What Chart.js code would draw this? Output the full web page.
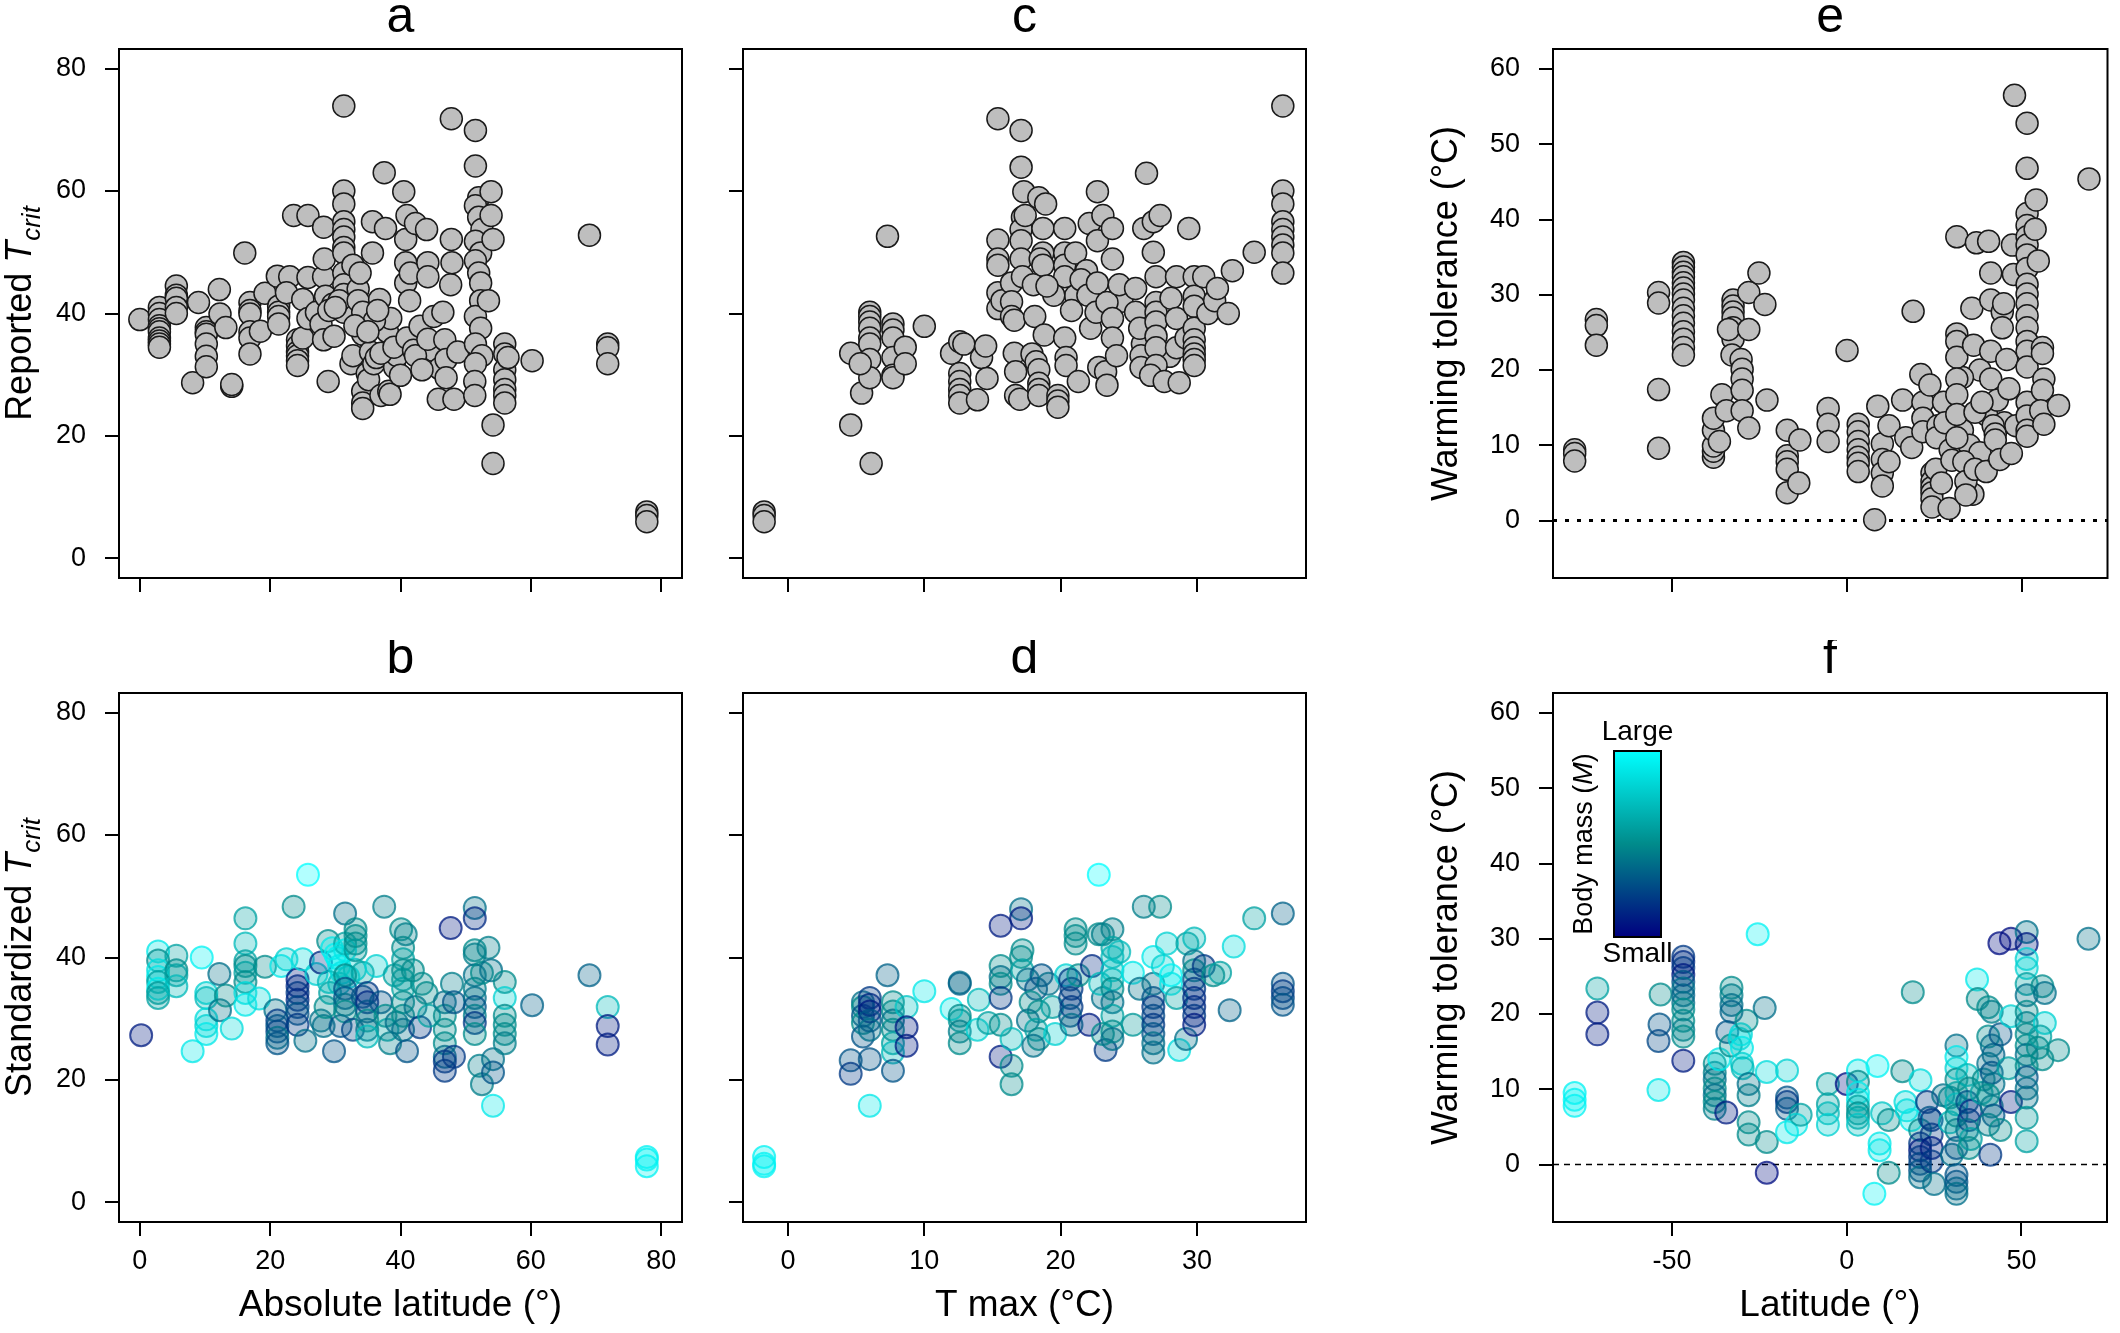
<!DOCTYPE html>
<html>
<head>
<meta charset="utf-8">
<script src="https://cdn.jsdelivr.net/npm/chart.js@4.4.0/dist/chart.umd.min.js"></script>
<style>
  body { margin: 0; background: #fff; width: 2120px; height: 1333px; position: relative; overflow: hidden; }
  canvas { position: absolute; }
</style>
</head>
<body>
<canvas id="pa" width="700" height="640" style="left:0;top:0"></canvas>
<canvas id="pc" width="630" height="640" style="left:700px;top:0"></canvas>
<canvas id="pe" width="790" height="640" style="left:1330px;top:0"></canvas>
<canvas id="pb" width="700" height="693" style="left:0;top:640px"></canvas>
<canvas id="pd" width="630" height="693" style="left:700px;top:640px"></canvas>
<canvas id="pf" width="790" height="693" style="left:1330px;top:640px"></canvas>
<script>
// tick values
var latTicks = [0, 20, 40, 60, 80];
var tmaxTicks = [0, 10, 20, 30];
var latSignedTicks = [-50, 0, 50];
var tcritTicks = [0, 20, 40, 60, 80];
var wtTicks = [0, 10, 20, 30, 40, 50, 60];

// a: reported Tcrit vs absolute latitude  [lat, Tcrit]
var aPts = [
  [0,39],
  [3,41],[3,40],[3,39],[3,38],[3,37.5],[3,37],[3,36],[3,35.5],[3,35],[3,34.5],
  [5.6,44.5],[5.6,43],[5.6,42.5],[5.6,41],[5.6,40],
  [8.1,28.7],[9,41.8],
  [10.2,37.7],[10.2,37],[10.2,36.6],[10.2,35],[10.2,33],[10.2,31.3],
  [12.2,43.9],[12.3,39.9],[13.2,37.7],[14.1,28.1],[14.1,28.4],
  [16.1,49.9],
  [16.9,41.8],[16.9,40.5],[16.9,39.9],[16.9,37],[16.9,36],[16.9,33.4],
  [18.5,37.1],[19.2,43.3],[21.1,46.1],
  [21.3,41.2],[21.3,40.2],[21.3,39.5],[21.3,38.3],
  [23,46],[23.6,56],[22.5,43.4],
  [24.2,35.7],[24.2,34.7],[24.2,33.7],[24.2,33.1],[24.2,32.3],[24.2,31.5],
  [25,42.3],[25,36],[25.8,56],[25.8,45.9],[25.8,39.2],[27.1,40.2],
  [28.2,54.1],[28.2,46],[28.3,48.9],[27.8,38.3],[28.2,35.7],[28.9,28.9],[28.5,42.8],[29.8,36.3],[29.6,41.5],
  [31.3,73.9],[31.3,60],[31.3,57.9],[31.3,55],[31.3,53.7],[31.3,52.5],[31.3,50.8],[31.3,49.9],[31.3,46.6],[31.3,44.7],[31.3,43.1],[31.3,41.2],[31.3,40.2],
  [30.6,42.1],[32.7,47.9],[32.4,31.8],[32.7,33.1],[33.5,44],[33.8,46.6],[33.5,42.1],[34.2,40.2],[34.2,36.6],[34.2,27.3],[34.2,25.4],[34.2,24.5],
  [34.9,30.2],[35.1,29.2],[35.4,33.7],[35.7,55],[35.7,49.9],[35.9,31.8],[36.3,32.8],[36.8,42.3],[37,26.6],[37.5,63],[37.7,53.9],[38,37],[38.2,27.3],[38.4,26.8],[38.5,39.2],[39.1,31.2],[39.5,33.1],[40,29.9],
  [36,38.8],[36.5,40.5],[29,40.5],[30,41],[33,38],[35,37],[37,33.5],[39,34.5],[41,36],[42,34],[45,34],[46,31],
  [40.5,59.9],[40.8,52.1],[40.8,48.3],[40.8,45],[41,56],[41.4,42.1],[41.5,46.6],[42.3,54.7],[42.3,33.1],[43,37.9],[43.3,30.8],[44,53.7],[44.2,48.3],[44.2,46],[44.2,35.8],[45.1,39.5],[45.8,26],
  [46.5,40.2],[46.8,35.7],[47,32.5],[47,29.5],[47.7,44.7],[47.8,52.1],[47.8,71.8],[47.9,48.3],[48.2,26],[48.8,33.7],
  [51.5,69.9],[51.5,64.1],[52,58.9],[51.5,57.6],[52,55.7],[52.5,53.7],[51.5,51.8],[52.3,49.9],[51.5,48.6],[52,46.6],[52.3,45],[52.3,42.1],[51.5,39.5],[52.3,37.6],[51.5,35],[52.5,33.1],[51.5,31.8],[51.4,28.9],[51.4,26.6],
  [53.9,59.9],[53.9,56],[54.2,52.1],[54.2,21.8],[54.2,15.5],[53.5,42.1],
  [56,35],[56,33.4],[56,30.8],[56,29.2],[56,27.6],[56,26.6],[56,25.4],[56.5,32.8],
  [60.2,32.3],[69,52.8],[71.8,35],[71.8,34.4],[71.8,31.8],[77.8,7.6],[77.8,7],[77.8,6]
];

// c: reported Tcrit vs Tmax  [Tmax, Tcrit]
var cPts = [
  [-1.75,7.6],[-1.75,7],[-1.75,6],
  [4.6,33.5],[4.6,21.8],[5.4,27],[6.1,15.5],
  [6,40.2],[6,39.5],[6,38.6],[6,37.6],[6,36],[6,35],[6,32.5],[6,29.5],[5.3,31.8],
  [7.3,52.6],
  [7.7,38.3],[7.7,37.3],[7.7,36],[7.7,32.8],[7.7,29.9],[7.7,29.5],
  [8.6,34.5],[8.6,31.8],[10,37.9],[12,33.5],
  [12.6,35.4],[12.6,30.2],[12.6,28.9],[12.6,27.6],[12.6,26.6],[12.6,25.4],[12.9,35],
  [13.9,25.9],[14.2,32.8],[14.5,34.7],[14.6,29.4],
  [15.4,71.8],[15.4,52],[15.4,48.9],[15.4,47.9],[15.4,43.4],[15.4,40.8],[15.7,42.1],
  [16.4,45],[16.4,41.9],[16.4,39.5],[16.6,38.9],[16.6,33.5],[16.7,30.5],[16.7,26.6],[17,26],
  [17.1,69.9],[17.1,63.9],[17.3,59.9],[17.2,55.7],[17.1,53.7],[17.1,51.9],[17.1,48.9],[17.2,46],[17.4,56],
  [18,44.7],[18.1,39.5],[18.4,58.9],[18.9,57.9],[18.7,53.9],[18.7,49.9],[18.5,48.9],[18.7,47.9],
  [17.9,33.4],[18.2,32.1],[18.4,30.8],[18.4,28.6],[18.4,27.6],[18.4,26.6],[18.8,36.5],
  [19.8,26.6],[19.8,25.7],[19.8,24.7],
  [20.3,53.9],[20.3,49.9],[20.3,47.9],[20.3,46],[20.3,36],[20.4,32.8],[20.4,31.5],
  [21.1,49.9],[21.1,42.9],[21.3,28.9],[21.9,47],[22.1,54.7],[22.2,37.6],
  [19.5,43],[21.5,45.5],[24.5,42],[26,35],[28,33],[20.8,40.5],[19,44.5],[22,43],
  [22.7,59.9],[22.7,51.9],[22.7,45],[22.6,40.2],[22.8,31.2],[23.1,56],[23.3,30.5],[23.4,28.3],[23.4,41.8],
  [23.8,53.9],[23.8,48.9],[23.8,39.2],[23.8,36],[24.1,33.1],[24.3,44.7],
  [25.5,44.1],[25.5,40.2],[25.8,37.6],[25.9,33.1],[25.9,31.2],[26.3,62.9],[26.1,53.9],[26.8,55],[27.3,56],[26.8,50],
  [27,46],[27,41.8],[27,40.2],[27,38.6],[27,36.3],[27,34.4],[27,31.5],[26.6,29.9],[27.6,28.9],
  [28.1,42.5],[28.5,46],[28.5,39.2],[28.5,34.4],[28.7,28.7],[29.2,36],[29.4,53.9],
  [29.8,46],[29.8,42.8],[29.8,41.2],[29.8,37.6],[29.8,35.7],[29.8,34.4],[29.8,33.4],[29.8,32.5],[29.8,31.5],
  [30.5,46],[30.8,40],[31.3,42.1],[31.5,44.1],[32.3,40],[32.6,47],[34.2,50],
  [36.3,73.9],[36.3,60],[36.3,57.9],[36.3,55],[36.3,53.7],[36.3,52.5],[36.3,51.2],[36.3,49.9],[36.3,46.6]
];

// e: warming tolerance (reported) vs latitude  [lat, WT]
var ePts = [
  [-77.9,9.4],[-77.9,8.9],[-77.9,7.9],
  [-71.7,26.7],[-71.7,25.9],[-71.7,23.3],
  [-53.9,30.3],[-53.9,28.9],[-53.9,17.4],[-53.9,9.6],
  [-46.8,34.3],[-46.8,33.7],[-46.8,33],[-46.8,32.4],[-46.8,31.6],[-46.8,30.9],[-46.8,30.1],[-46.8,29.3],[-46.8,28.2],[-46.8,27.2],[-46.8,26.2],[-46.8,25.1],[-46.8,24.1],[-46.8,23],[-46.8,22],
  [-38.2,8.4],[-38.2,9.2],[-38.2,9.9],[-38.2,12],[-38.2,13.6],
  [-36.5,10.5],[-35.8,16.7],[-34.5,14.6],
  [-32.6,29.3],[-32.6,28.5],[-32.6,27.7],[-32.6,26.9],[-32.6,25.6],[-32.6,24.1],
  [-33.9,25.4],[-32.9,22],[-30.3,21.4],[-30,20.1],[-30,18.8],[-30,17.3],[-30,14.6],
  [-28.1,30.3],[-28.1,25.4],[-28.1,12.3],[-25.2,32.9],[-23.5,28.7],[-22.9,16],
  [-17.1,12],[-17.1,8.6],[-17.1,7.8],[-17.1,6.8],[-17.1,3.7],[-13.5,10.7],[-13.8,5],
  [-5.4,14.9],[-5.4,12.8],[-5.4,10.5],[0,22.6],
  [3.2,12.8],[3.2,11.8],[3.2,10.5],[3.2,9.4],[3.2,8.4],[3.2,7.6],[3.2,6.5],
  [8.8,15.2],[10.1,10.2],[10.1,8.1],[10.1,6.3],[10.1,4.6],[7.9,0.1],[12,12.6],[12,7.8],
  [15.9,16],[16.8,11],[18.5,9.7],[18.9,27.8],[21.1,19.4],[21.7,15.7],[21.7,13.6],[21.7,11.8],
  [24.3,6.3],[24.3,5.2],[24.3,4.4],[24.3,3.7],[24.3,2.9],[24.3,1.8],
  [23.7,18],[25.4,6.8],[26,12.6],[25.6,11],[27.6,15.7],[29.2,1.6],[29.5,9.4],
  [33,12],[35,10],[38,9],[40,14],[43,16],[45,13],[38,20],[33,19],[28,13],[30,8],[36,3.5],[27,5],
  [31.4,37.7],[31.4,24.8],[31.4,23.8],[31.4,21.7],[31.4,18.8],[31.4,16.7],[31.4,14.1],[31.4,11],
  [33.4,7.8],[34,5.2],[34,3.4],[35.7,28.2],[36.2,23.3],[36.6,6.8],[36.6,14.4],[37,36.9],[38.6,15.7],
  [40.5,37.1],[41.1,32.9],[41.1,29.3],[41.1,22.5],[41.1,18.8],[39.8,6.5],[41.8,12.6],[42.4,11.5],[42.4,10.7],[43.7,8.1],
  [44.4,27.7],[44.4,25.6],[44.8,28.8],[45.7,21.4],[46.3,17.5],[47,8.9],[47.3,36.6],[47.6,32.7],[47.9,56.5],[48.3,12.6],
  [51.5,52.8],[51.5,46.8],[51.5,40.8],[51.5,39.2],[51.5,37.7],[51.5,36.6],[51.5,35.3],[51.5,33.5],[51.5,31.4],[51.5,30.1],[51.5,28.8],[51.5,27.2],[51.5,25.6],[51.5,23.8],[51.5,22.5],[51.5,20.4],[51.5,15.7],[51.5,13.9],[51.5,12],[51.5,11.2],
  [54.1,42.6],[53.8,38.7],[54.7,34.5],[55.9,23],[55.9,22.2],[56.3,18.8],[55.9,17.3],[55.4,14.6],[56.3,12.8],[60.5,15.3],[69.2,45.4]
];

// b: standardized Tcrit vs absolute latitude  [lat, Tcrit, mass 0=small..1=large]
var bPts = [
  [0.2,27.3,0.1],
  [2.8,41,0.9],[2.8,39.5,0.5],[2.8,37.9,0.85],[2.8,36.8,0.9],[2.8,36,0.6],[2.8,34.9,0.9],[2.8,34.2,0.55],[2.8,33.4,0.6],
  [5.6,40.3,0.6],[5.6,37.9,0.5],[5.6,37.1,0.6],[5.6,35.3,0.7],
  [8.1,24.7,0.9],[9.5,40,0.95],
  [10.2,34.2,0.8],[10.2,33.4,0.7],[10.2,29.9,0.85],[10.2,28.8,0.8],[10.2,27.5,0.9],
  [12.2,37.3,0.4],[12.3,31.4,0.4],[13.2,33.8,0.5],[14.1,28.4,0.85],
  [16.2,46.4,0.6],[16.2,42.3,0.7],[16.2,39.4,0.6],[16.2,38.6,0.5],[16.2,37.5,0.6],[16.2,36,0.5],[16.2,34.2,0.85],[16.2,32.3,0.9],
  [18.3,33.3,0.85],[19.2,38.5,0.5],[20.8,31.4,0.4],
  [21.1,29.7,0.2],[21.1,28.8,0.3],[21.1,27.9,0.25],[21.1,26.9,0.4],[21.1,26,0.3],
  [21.7,38.6,0.9],[22.5,39.7,0.8],[23.6,48.3,0.5],
  [24.2,36.4,0.1],[24.2,35.3,0.15],[24.2,34.2,0.2],[24.2,33.1,0.15],[24.2,31.9,0.25],[24.2,30.8,0.3],[24.2,29,0.2],
  [25,39.7,0.85],[25.8,53.5,1],[25.4,26.4,0.4],[27.1,37.3,0.8],[27.8,39.2,0.15],[27.8,29.7,0.4],[28.2,28.8,0.4],
  [28.9,42.7,0.5],[28.5,31.9,0.5],[29.2,34.2,0.6],[29.8,24.7,0.3],[30.3,39.9,0.95],[30.6,38.6,0.9],[30.6,35.7,0.7],[30.8,28.8,0.3],
  [29.5,41.5,0.9],[30,40.5,0.95],[31,37.5,0.9],[32,36.8,0.85],[29,36,0.7],[33,38,0.8],
  [31.5,47.2,0.4],[31.5,42.3,0.6],[31.5,41.2,0.9],[31.5,37.1,0.5],[31.5,34.9,0.3],[31.5,33.4,0.3],[31.5,32.3,0.4],[31.5,31.2,0.5],
  [32.7,28.2,0.25],[33.1,44.6,0.5],[33.1,43.5,0.5],[33.1,42.3,0.5],[33.1,41.2,0.55],
  [34.2,37.5,0.6],[34.2,33.6,0.3],
  [34.9,34.2,0.2],[34.9,32.7,0.15],[34.9,31.2,0.3],[34.9,29.7,0.5],[34.9,28.2,0.4],[34.9,27.1,0.7],
  [36.3,38.6,0.8],[37,32.7,0.3],[37.5,48.3,0.45],[37.7,30.5,0.5],[38,28.2,0.6],[38.4,26,0.45],[39.1,37.1,0.6],[39.4,29.4,0.4],
  [40.1,44.6,0.5],[40.4,41.6,0.5],[40.4,39.7,0.6],[40.4,37.9,0.5],[40.4,36.4,0.55],[40.4,34.9,0.6],[40.4,32.7,0.5],[40.4,30.5,0.5],[40.4,28.2,0.4],
  [40.8,43.8,0.45],[41,24.7,0.3],[41.9,37.9,0.5],[42.3,31.9,0.4],[43,28.6,0.2],[43.3,35.7,0.5],[44,34.2,0.5],[44.4,30.5,0.6],
  [46.8,32.7,0.4],[46.8,30.5,0.5],[46.8,28.2,0.5],[46.8,26,0.5],[46.8,23.8,0.4],[46.8,23,0.2],[46.8,21.5,0.2],
  [47.7,44.8,0.1],[48.2,23.8,0.2],[47.9,35.7,0.45],[48.2,32.7,0.3],
  [51.4,48.1,0.4],[51.4,46.4,0.15],[51.4,41.2,0.5],[51.4,40.5,0.45],[51.4,37.1,0.4],[51.4,34.9,0.45],[51.4,33.4,0.4],[51.4,31.9,0.3],[51.4,30.5,0.45],[51.4,29.3,0.2],[51.4,27.5,0.5],
  [52.1,22.3,0.45],[52.5,19.3,0.45],[52.5,37.5,0.5],[53.5,41.6,0.45],[53.9,37.9,0.4],[54.2,23.4,0.4],[54.2,21.2,0.3],[54.2,15.8,0.9],
  [56,36,0.5],[56,33.4,0.8],[56,30.5,0.5],[56,29,0.5],[56,27.5,0.5],[56,26,0.45],
  [60.2,32.2,0.35],[69,37.1,0.35],[71.8,31.9,0.7],[71.8,28.8,0.1],[71.8,25.8,0.1],
  [77.8,7.4,0.95],[77.8,7,0.95],[77.8,5.9,0.95]
];

// d: standardized Tcrit vs Tmax  [Tmax, Tcrit, mass]
var dPts = [
  [-1.75,7.4,0.95],[-1.75,6.3,0.95],[-1.75,5.9,0.95],
  [4.6,23.2,0.3],[4.6,21,0.2],
  [5.5,32.7,0.4],[5.5,31.9,0.5],[5.5,30.5,0.3],[5.5,29.3,0.5],[5.5,27.1,0.3],
  [6,33.4,0.2],[6,32.3,0.15],[6,31.2,0.1],[6,29.7,0.3],[6,28.2,0.4],[6,23.4,0.3],[6,15.8,0.9],
  [7.3,37.1,0.35],
  [7.7,32.7,0.5],[7.7,31.2,0.5],[7.7,29.7,0.4],[7.7,28.2,0.5],[7.7,26,0.6],[7.7,24.5,0.7],[7.7,21.5,0.3],
  [8.7,31.9,0.75],[8.7,28.6,0.1],[8.7,25.6,0.1],[10,34.5,0.9],[12,31.6,0.9],
  [12.6,35.9,0.4],[12.6,35.7,0.35],[12.6,30.5,0.5],[12.6,29.7,0.55],[12.6,27.9,0.45],[12.6,26,0.5],
  [13.9,28.2,0.8],[14,33.1,0.7],[14.7,29.3,0.6],
  [15.6,45.2,0.1],[15.6,38.6,0.5],[15.6,36.8,0.4],[15.6,35.7,0.5],[15.6,33.4,0.2],[15.6,29,0.5],[15.6,23.8,0.1],
  [16.4,22.3,0.5],[16.4,19.3,0.5],[16.4,26.7,0.7],
  [17.1,47.9,0.4],[17.1,46.4,0.1],[17.2,41.2,0.5],[17.1,40.1,0.5],[17.2,37.9,0.6],
  [17.6,36.4,0.4],[18.2,34.9,0.3],[17.8,32.7,0.5],[18.4,31.2,0.5],[17.6,29.7,0.4],[18.2,28.2,0.6],[18.4,26.7,0.5],[18,25.6,0.4],
  [18.6,37.1,0.3],[19.1,35.7,0.4],[19.4,31.9,0.6],[19.6,27.5,0.8],[20.4,37.1,0.8],
  [21.1,44.6,0.5],[21.1,43.5,0.5],[21.1,42.3,0.5],
  [20.7,36.4,0.2],[20.8,34.9,0.2],[20.7,33.4,0.25],[20.8,31.9,0.2],[20.7,30.5,0.3],[20.8,29,0.4],
  [21.3,37.1,0.5],[22.1,29,0.1],[22.3,38.6,0.15],[22.8,53.5,1],[22.8,43.8,0.5],[23.1,43.8,0.45],[23.3,24.9,0.2],[23.1,27.5,0.5],[23.1,33.4,0.4],[22.9,35.7,0.7],
  [23.8,44.6,0.45],[23.8,41.6,0.6],[23.8,40.1,0.7],[23.8,37.9,0.75],[23.8,36.4,0.7],[23.8,34.9,0.5],[23.8,32.7,0.4],[23.8,30.5,0.6],[23.8,27.9,0.5],[23.8,26.7,0.4],
  [24.3,40.9,0.7],[25.3,37.5,0.9],[25.3,29,0.55],[25.8,34.9,0.4],[26.1,48.3,0.45],[27.3,48.3,0.5],
  [26.8,40.1,0.9],[26.8,35.7,0.4],[26.8,33.4,0.3],[26.8,31.9,0.2],[26.8,30.5,0.25],[26.8,29,0.2],[26.8,27.5,0.3],[26.8,26,0.4],[26.8,24.5,0.4],
  [27.5,38.6,0.8],[27.8,42.3,0.8],[28.1,37.1,0.95],[28.1,35.7,0.9],[28.5,33.4,0.6],[28.7,24.9,0.85],[29.2,26.7,0.4],[29.3,42.3,0.6],
  [29.8,43.1,0.7],[29.8,39.4,0.4],[29.8,37.9,0.5],[29.8,36.4,0.3],[29.8,34.9,0.2],[29.8,33.4,0.15],[29.8,31.9,0.15],[29.8,30.5,0.2],[29.8,29,0.1],
  [30.5,38.6,0.2],[31.2,37.1,0.5],[31.7,37.5,0.6],[32.4,31.4,0.35],[32.7,41.8,0.85],[34.2,46.4,0.6],
  [36.3,47.2,0.35],[36.3,35.7,0.3],[36.3,34.5,0.2],[36.3,33.4,0.25],[36.3,32.3,0.3]
];

// f: warming tolerance (standardized) vs latitude  [lat, WT, mass]
var fPts = [
  [-77.9,9.5,0.95],[-77.9,8.6,0.95],[-77.9,7.8,0.95],
  [-71.4,23.4,0.6],[-71.4,20.2,0.1],[-71.4,17.3,0.1],
  [-53.3,22.6,0.5],[-53.6,18.6,0.3],[-53.9,16.4,0.25],[-53.9,9.9,0.9],
  [-46.8,27.6,0.2],[-46.8,26.9,0.15],[-46.8,26.1,0.2],[-46.8,25.2,0.1],[-46.8,24.3,0.3],[-46.8,23.4,0.4],[-46.8,22.5,0.35],[-46.8,21.5,0.4],[-46.8,20.6,0.5],[-46.8,19.1,0.5],[-46.8,17.9,0.45],[-46.8,17,0.5],[-46.8,13.8,0.1],
  [-37.8,13.4,0.5],[-37.8,12.2,0.45],[-37.8,11.3,0.4],[-37.8,10.1,0.5],[-37.8,9.2,0.4],[-37.8,8.3,0.5],[-37.8,7.4,0.45],
  [-36.5,14,0.9],[-34.5,6.9,0.1],
  [-33,23.5,0.5],[-33,22.5,0.45],[-33,21.2,0.4],[-33,20.3,0.35],
  [-34.2,17.6,0.3],[-33.2,15.8,0.5],[-30.7,16.7,0.8],[-30.3,17.3,0.85],[-30,15.5,0.9],[-30,13.4,0.8],[-29.8,12.8,0.7],
  [-28.7,19.1,0.5],[-28.1,10.7,0.4],[-28.1,9.2,0.45],[-28.1,5.6,0.5],[-28.1,4,0.5],
  [-25.5,30.6,0.95],[-23.5,20.8,0.4],[-22.9,12.3,0.85],[-22.9,3,0.5],[-22.9,-1.1,0.05],
  [-17.1,12.5,0.8],[-17.1,8.9,0.3],[-17.1,8.3,0.2],[-17.1,7.4,0.3],[-17.1,4.3,0.9],
  [-14.5,5.3,0.9],[-13.2,6.6,0.6],
  [-5.4,10.7,0.6],[-5.4,8,0.6],[-5.4,6.8,0.7],[-5.4,5.3,0.8],[0,10.7,0.05],
  [3.2,12.5,0.9],[3.2,11,0.5],[3.2,9.5,0.9],[3.2,8.6,0.9],[3.2,7.7,0.6],[3.2,6.8,0.5],[3.2,6.2,0.6],[3.2,5.3,0.75],
  [8.8,13.1,0.95],[10.1,6.8,0.75],[9.4,2.8,0.9],[9.4,1.9,0.9],[7.9,-3.9,0.95],[12,5.9,0.5],[12,-1.1,0.5],
  [15.9,12.4,0.5],[16.8,8.3,0.85],[17.2,7.2,0.85],[18.5,5.9,0.9],[18.9,22.9,0.5],[21.1,11.2,0.85],
  [21,4.6,0.5],[21,2.8,0.2],[21,1.9,0.1],[21,1,0.2],[21,0.1,0.25],[21,-0.8,0.3],[21,-1.7,0.4],
  [23,8.3,0.2],[23.7,6.2,0.3],
  [24.3,5.9,0.2],[24.3,4,0.2],[24.3,2.2,0.1],[24.3,0.4,0.2],[25,-2.6,0.4],
  [27.6,9.2,0.4],[29.5,8.9,0.45],[29.5,5.6,0.7],[30.1,1.3,0.4],
  [31.4,15.8,0.4],[31.4,14.3,0.9],[31.4,12.8,0.8],[31.4,11.3,0.5],[31.4,9.5,0.6],[31.4,8,0.7],[31.4,6.5,0.5],[31.4,4.6,0.45],[31.4,2.2,0.3],[31.4,-1.4,0.3],[31.4,-2.3,0.3],[31.4,-3.2,0.35],[31.4,-3.9,0.4],
  [34.5,11.9,0.7],[35,10.1,0.5],[34.5,8.3,0.3],[35.5,7.1,0.15],[35,5.9,0.2],[34.5,4.6,0.4],[35.5,3.4,0.6],[35,2.2,0.5],
  [37.3,24.6,0.9],[37.5,22,0.5],[38.6,9.5,0.6],[39.2,11.3,0.5],
  [40.5,20.9,0.5],[41.5,20.3,0.45],[40.5,17,0.5],[41.5,15.8,0.4],[42,14.6,0.35],[40.5,13.4,0.4],[41.5,12.2,0.3],[42,10.7,0.4],[40.5,9.2,0.5],[41.5,7.7,0.45],[42,6.5,0.3],[40.5,5.3,0.45],
  [41.1,1.3,0.2],[43.7,29.4,0.05],[44,4.6,0.5],[44,17.3,0.3],[47,30,0.05],[47,8.3,0.1],[47,19.7,0.8],[46.3,12.8,0.6],
  [51.5,30.9,0.4],[51.5,29.3,0.1],[51.5,27.3,0.8],[51.5,26.1,0.8],[51.5,24,0.6],[51.5,22.5,0.4],[51.5,20.3,0.5],[51.5,18.8,0.45],[51.5,17.3,0.5],[51.5,15.8,0.5],[51.5,14.6,0.4],[51.5,13.1,0.5],[51.5,11.6,0.3],[51.5,10.1,0.4],[51.5,8.9,0.4],[51.5,6.2,0.55],[51.5,3.1,0.6],
  [56,23.7,0.5],[56.7,22.8,0.4],[56.7,18.8,0.8],[55.4,17,0.6],[54.7,15.5,0.5],[56,14,0.5],[60.5,15.2,0.5],[69.2,30,0.4]
];

var FONT = '"Liberation Sans", Arial, sans-serif';

function ramp(m) {
  // navy -> darkcyan -> cyan
  var lo = m < 0.5 ? [0, 0, 128] : [0, 139, 139];
  var hi = m < 0.5 ? [0, 139, 139] : [0, 255, 255];
  var t = m < 0.5 ? m / 0.5 : (m - 0.5) / 0.5;
  return lo.map(function(v, i) { return Math.round(v + (hi[i] - v) * t); });
}
function rgba(c, a) { return 'rgba(' + c[0] + ',' + c[1] + ',' + c[2] + ',' + a + ')'; }

var decor = {
  id: 'decor',
  beforeDatasetsDraw: function(chart, args, o) {
    if (!o.zero) return;
    var ca = chart.chartArea, ctx = chart.ctx;
    var y = chart.scales.y.getPixelForValue(0);
    ctx.save();
    ctx.strokeStyle = '#000';
    ctx.lineWidth = o.zero === 'dot' ? 3 : 1.6;
    ctx.setLineDash(o.zero === 'dot' ? [4, 8] : [6, 5]);
    ctx.beginPath();
    ctx.moveTo(ca.left, y);
    ctx.lineTo(ca.right, y);
    ctx.stroke();
    ctx.restore();
  },
  afterDraw: function(chart, args, o) {
    var ctx = chart.ctx, ca = chart.chartArea;
    var cx = (ca.left + ca.right) / 2;
    ctx.save();
    ctx.strokeStyle = '#000';
    ctx.lineWidth = 2;
    ctx.strokeRect(ca.left, ca.top, ca.width, ca.height);
    ctx.fillStyle = '#000';
    ctx.textAlign = 'center';
    ctx.textBaseline = 'alphabetic';
    ctx.font = '50px ' + FONT;
    ctx.fillText(o.letter, cx, o.letterY);
    if (o.xTitle) {
      ctx.font = '37px ' + FONT;
      ctx.fillText(o.xTitle, cx, o.xTitleY);
    }
    if (o.yTitle) drawParts(ctx, o.yTitle, o.yTitleX, (ca.top + ca.bottom) / 2);

    if (o.cbar) {
      var x0 = ca.left + 61, w = 47, y0 = ca.top + 58, h = 186;
      var g = ctx.createLinearGradient(0, y0 + h, 0, y0);
      g.addColorStop(0, 'rgb(0,0,128)');
      g.addColorStop(0.5, 'rgb(0,139,139)');
      g.addColorStop(1, 'rgb(0,255,255)');
      ctx.fillStyle = g;
      ctx.fillRect(x0, y0, w, h);
      ctx.strokeStyle = '#000';
      ctx.lineWidth = 2;
      ctx.strokeRect(x0, y0, w, h);
      ctx.fillStyle = '#000';
      ctx.textAlign = 'center';
      ctx.font = '28px ' + FONT;
      ctx.fillText('Large', x0 + w / 2, y0 - 11);
      ctx.fillText('Small', x0 + w / 2, y0 + h + 25);
      drawParts(ctx, [
        {t: 'Body mass (', f: '27px ' + FONT},
        {t: 'M', f: 'italic 27px ' + FONT},
        {t: ')', f: '27px ' + FONT}
      ], x0 - 22, y0 + h / 2);
    }
    ctx.restore();
  }
};

// rotated (bottom-to-top) text made of several font runs
function drawParts(ctx, parts, bx, cy) {
  ctx.save();
  ctx.translate(bx, cy);
  ctx.rotate(-Math.PI / 2);
  ctx.textAlign = 'left';
  ctx.textBaseline = 'alphabetic';
  var w = 0;
  parts.forEach(function(p) { ctx.font = p.f; w += ctx.measureText(p.t).width; });
  var x = -w / 2;
  parts.forEach(function(p) {
    ctx.font = p.f;
    ctx.fillText(p.t, x, p.dy || 0);
    x += ctx.measureText(p.t).width;
  });
  ctx.restore();
}

function axis(min, max, ticks, labels, size, isX) {
  return {
    type: 'linear',
    min: min,
    max: max,
    afterBuildTicks: function(s) { s.ticks = ticks.map(function(v) { return {value: v}; }); },
    afterFit: function(s) { if (isX) s.height = size; else s.width = size; },
    grid: {display: true, drawOnChartArea: false, drawTicks: true, tickLength: 14, color: '#000', lineWidth: 2},
    border: {display: false},
    ticks: {
      display: labels, autoSkip: false, maxRotation: 0, color: '#000',
      font: {family: FONT, size: 27}, padding: isX ? 9 : 19
    }
  };
}

function panel(id, pts, mass, xs, ys, pad, deco) {
  var ds = {
    data: pts.map(function(p) { return {x: p[0], y: p[1]}; }),
    pointRadius: 11,
    pointHoverRadius: 11,
    borderWidth: mass ? 2 : 1.5
  };
  if (mass) {
    ds.backgroundColor = pts.map(function(p) { return rgba(ramp(p[2]), 0.3); });
    ds.borderColor = pts.map(function(p) { return rgba(ramp(p[2]), 0.75); });
  } else {
    ds.backgroundColor = '#bebebe';
    ds.borderColor = '#1a1a1a';
  }
  return new Chart(document.getElementById(id), {
    type: 'scatter',
    data: {datasets: [ds]},
    options: {
      responsive: false,
      animation: false,
      events: [],
      layout: {padding: {top: pad[0], right: pad[1], bottom: 0, left: 0}},
      plugins: {legend: {display: false}, tooltip: {enabled: false}, decor: deco},
      scales: {x: xs, y: ys}
    },
    plugins: [decor]
  });
}

var tcritTitle = function(word) {
  return [
    {t: word + ' ', f: '36px ' + FONT},
    {t: 'T', f: 'italic 36px ' + FONT},
    {t: 'crit', f: 'italic 26px ' + FONT, dy: 9}
  ];
};
var wtTitle = [{t: 'Warming tolerance (°C)', f: '36px ' + FONT}];

// top row
panel('pa', aPts, false,
  axis(-3.2, 83.2, latTicks, false, 62, true),
  axis(-3.2, 83.2, tcritTicks, true, 119, false),
  [49, 18], {letter: 'a', letterY: 32, yTitle: tcritTitle('Reported'), yTitleX: 31});
panel('pc', cPts, false,
  axis(-3.3, 38, tmaxTicks, false, 62, true),
  axis(-3.2, 83.2, tcritTicks, false, 43, false),
  [49, 24], {letter: 'c', letterY: 32});
panel('pe', ePts, false,
  axis(-84.1, 74.5, latSignedTicks, false, 62, true),
  axis(-7.64, 62.66, wtTicks, true, 223, false),
  [49, 4], {letter: 'e', letterY: 32, yTitle: wtTitle, yTitleX: 127, zero: 'dot'});

// bottom row
panel('pb', bPts, true,
  axis(-3.2, 83.2, latTicks, true, 111, true),
  axis(-3.2, 83.2, tcritTicks, true, 119, false),
  [53, 18], {letter: 'b', letterY: 33, yTitle: tcritTitle('Standardized'), yTitleX: 31,
    xTitle: 'Absolute latitude (°)', xTitleY: 676});
panel('pd', dPts, true,
  axis(-3.3, 38, tmaxTicks, true, 111, true),
  axis(-3.2, 83.2, tcritTicks, false, 43, false),
  [53, 24], {letter: 'd', letterY: 33, xTitle: 'T max (°C)', xTitleY: 676});
panel('pf', fPts, true,
  axis(-84.1, 74.5, latSignedTicks, true, 111, true),
  axis(-7.64, 62.66, wtTicks, true, 223, false),
  [53, 4], {letter: 'f', letterY: 33, yTitle: wtTitle, yTitleX: 127, zero: 'dash', cbar: true,
    xTitle: 'Latitude (°)', xTitleY: 676});
</script>
</body>
</html>
